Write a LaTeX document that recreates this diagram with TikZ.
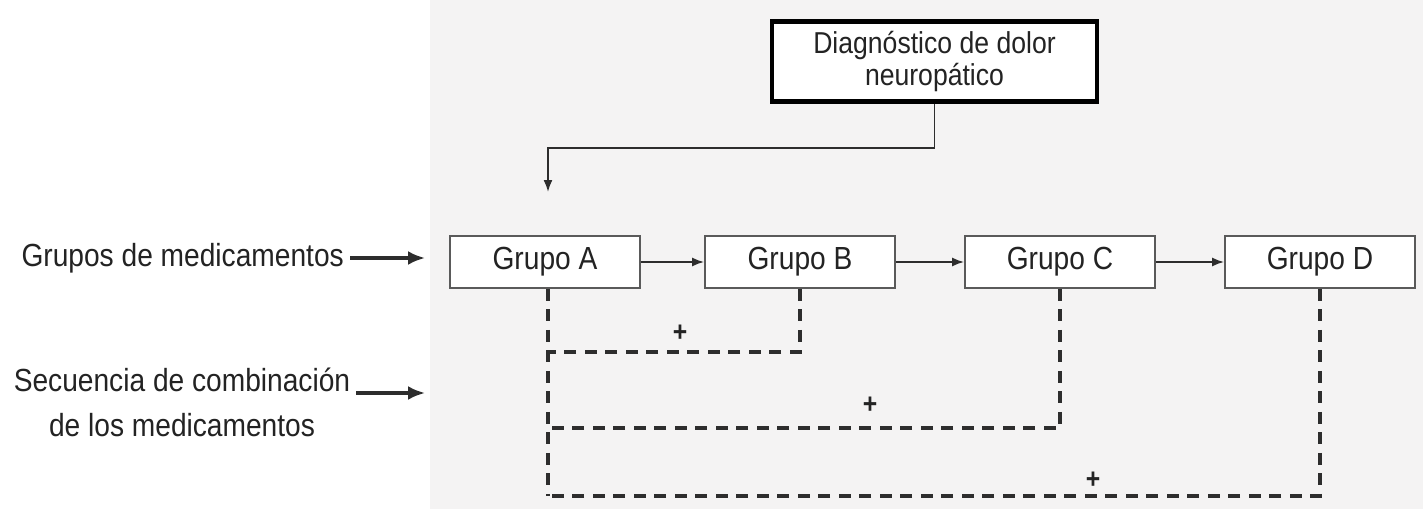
\documentclass[tikz,border=0pt]{standalone}
\usepackage{fontspec}
\setmainfont{Liberation Sans}[FakeStretch=0.88]
\usetikzlibrary{arrows.meta, positioning, backgrounds, calc}
\definecolor{panelgray}{RGB}{244, 243, 243}
\definecolor{linegray}{RGB}{45, 45, 45}
\definecolor{boxgray}{RGB}{90, 90, 90}
\definecolor{textgray}{RGB}{35, 35, 35}
\tikzset{
    diag box/.style={
        rectangle,
        draw=black,
        line width=2.4pt,
        fill=white,
        minimum width=6.5cm,
        minimum height=1.6cm,
        align=center,
        font=\fontsize{17.2}{18}\selectfont,
        text=textgray
    },
    group box/.style={
        rectangle,
        draw=boxgray,
        line width=1pt,
        fill=white,
        minimum width=3.8cm,
        minimum height=1.04cm,
        font=\fontsize{18.2}{18}\selectfont,
        text=textgray
    },
    side label/.style={
        align=center,
        font=\fontsize{18.2}{25.5}\selectfont,
        text=textgray
    },
    arrow/.style={
        -{Latex[length=2.4mm, width=1.8mm]},
        line width=1pt,
        draw=linegray
    },
    side arrow/.style={
        -{Latex[length=3.4mm, width=2.8mm]},
        line width=1.8pt,
        draw=linegray
    },
    combo line/.style={
        dash pattern=on 2.4mm off 1.7mm,
        line width=2pt,
        draw=linegray
    },
    plus/.style={
        font=\fontsize{16}{16}\selectfont\bfseries,
        text=textgray
    }
}

\begin{document}
\begin{tikzpicture}

% Canvas
\useasboundingbox (0,0) rectangle (28.46,10.18);
\fill[white] (0,0) rectangle (28.46,10.18);
\fill[panelgray] (8.6,0) rectangle (28.46,10.18);

% Diagnosis
\node[diag box] (diag) at (18.69, 8.95) {Diagnóstico de dolor\\neuropático};
\coordinate (entry) at (10.96, 6.34);

% Drug groups
\node[group box] (grpA) at (10.9, 4.94) {Grupo A};
\node[group box] (grpB) at (16.0, 4.94) {Grupo B};
\node[group box] (grpC) at (21.2, 4.94) {Grupo C};
\node[group box] (grpD) at (26.4, 4.94) {Grupo D};

% Side labels
\node[side label, anchor=east] (lblgrupos) at (7.0, 5.02) {Grupos de medicamentos};
\node[side label] (lblsec) at (3.64, 2.14) {Secuencia de combinación\\de los medicamentos};
\coordinate (grpin) at (8.5, 5.02);
\coordinate (secin) at (8.5, 2.32);

% Diagnosis -> first group
\draw[arrow] (diag.south) |- (entry |- 0,7.22) -- (entry);

% Sequence of groups
\draw[arrow] (grpA) -- (grpB);
\draw[arrow] (grpB) -- (grpC);
\draw[arrow] (grpC) -- (grpD);

% Side arrows
\draw[side arrow] (lblgrupos.east) -- (grpin);
\draw[side arrow] (lblsec.east |- secin) -- (secin);

% Combinations
\draw[combo line] (grpA.south -| entry) -- (entry |- 0,0.26);
\draw[combo line] (grpB.south) |- (entry |- 0,3.14);
\draw[combo line] (grpC.south) |- (entry |- 0,1.62);
\draw[combo line] (grpD.south) |- (entry |- 0,0.26);

\node[plus] (plusB) at (13.6, 3.52) {+};
\node[plus] (plusC) at (17.4, 2.08) {+};
\node[plus] (plusD) at (21.86, 0.58) {+};

\end{tikzpicture}
\end{document}
